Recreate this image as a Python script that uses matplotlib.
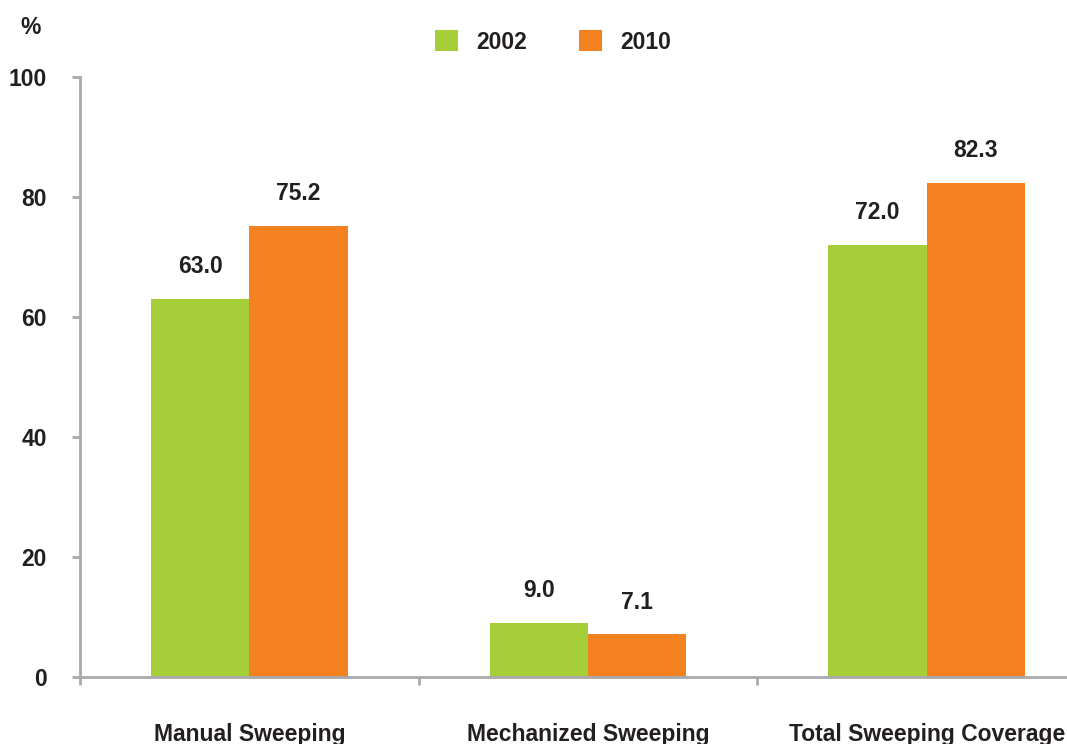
import matplotlib.pyplot as plt
import numpy as np

plt.rcParams['font.family'] = ['Liberation Sans Narrow', 'Liberation Sans', 'DejaVu Sans']
plt.rcParams['font.weight'] = 'bold'

categories = ['Manual Sweeping', 'Mechanized Sweeping', 'Total Sweeping Coverage']
years = ['2002', '2010']
v2002 = [63.0, 9.0, 72.0]
v2010 = [75.2, 7.1, 82.3]
colors = ['#A6CE39', '#F58220']
txt = '#231F20'
axc = '#A7A9AC'
fs = 16.5

fig = plt.figure(figsize=(10.67, 7.44), dpi=100)
ax = fig.add_axes([80/1067, 67/744, 1016/1067, 600/744])

x = np.arange(len(categories))
w = 0.29
b1 = ax.bar(x - w/2, v2002, w, color=colors[0], label=years[0])
b2 = ax.bar(x + w/2, v2010, w, color=colors[1], label=years[1])

for bars, vals in [(b1, v2002), (b2, v2010)]:
    for r, v in zip(bars, vals):
        ax.annotate(f'{v:.1f}', (r.get_x() + r.get_width()/2, v),
                    xytext=(0, 15), textcoords='offset points',
                    ha='center', va='bottom', fontsize=fs, color=txt, fontweight='bold')

ax.set_xlim(-0.5, 2.5)
ax.set_ylim(0, 100)
ax.set_yticks(range(0, 101, 20))
ax.tick_params(axis='y', length=6, width=2, color=axc, pad=18, labelsize=fs, labelcolor=txt)
ax.set_xticks(x)
ax.set_xticklabels(categories)
ax.tick_params(axis='x', length=0, pad=33, labelsize=fs, labelcolor=txt)
ax.set_xticks([-0.5, 0.5, 1.5, 2.5], minor=True)
ax.tick_params(axis='x', which='minor', length=6, width=2, color=axc)

for s in ['top', 'right']:
    ax.spines[s].set_visible(False)
for s in ['left', 'bottom']:
    ax.spines[s].set_color(axc)
    ax.spines[s].set_linewidth(2)

fig.text(31/1067, 1 - 28/744, '%', ha='center', va='center', fontsize=fs, color=txt, fontweight='bold')

leg = fig.legend(loc='center', bbox_to_anchor=(553/1067, 1 - 42/744), ncol=2, frameon=False,
                 fontsize=fs, handlelength=1.0, handleheight=1.0, handletextpad=0.8,
                 columnspacing=2.3)
for t in leg.get_texts():
    t.set_color(txt)

fig.savefig('out.png', dpi=100)
